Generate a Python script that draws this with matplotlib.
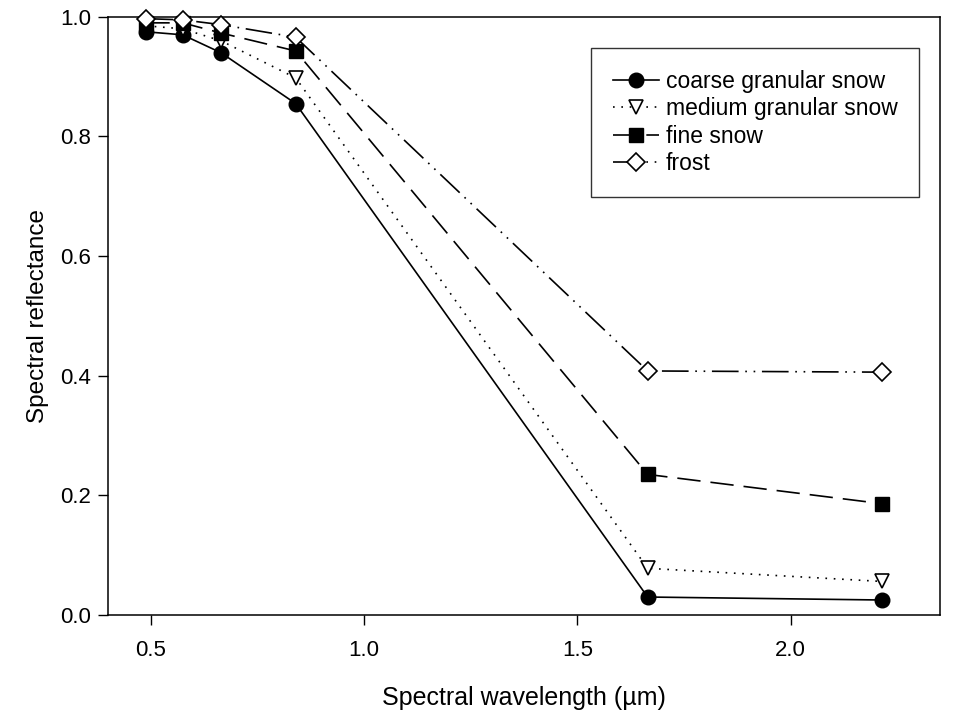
import numpy as np
import matplotlib
matplotlib.use('Agg')
import matplotlib.pyplot as plt

plt.rcParams['font.family'] = ['Liberation Sans', 'DejaVu Sans']

# wavelengths (um) and reflectance per surface type
wavelength = [0.49, 0.575, 0.665, 0.84, 1.665, 2.215]
coarse = [0.975, 0.97, 0.94, 0.855, 0.03, 0.025]
medium = [0.985, 0.98, 0.96, 0.898, 0.078, 0.056]
fine = [0.99, 0.99, 0.973, 0.943, 0.235, 0.186]
frost = [0.997, 0.995, 0.987, 0.966, 0.408, 0.406]
labels = ['coarse granular snow', 'medium granular snow', 'fine snow', 'frost']

fig = plt.figure(figsize=(9.64, 7.18), dpi=100)
ax = fig.add_axes([0.112, 0.1435, 0.863, 0.833])

lw = 1.2
ax.plot(wavelength, coarse, '-', color='black', lw=lw, marker='o', ms=10.5,
        mfc='black', mec='black', label=labels[0], clip_on=False, zorder=5)
ax.plot(wavelength, medium, color='black', lw=lw, ls=(0, (1, 4)), marker='v', ms=10.5,
        mfc='white', mec='black', mew=1.2, label=labels[1], clip_on=False, zorder=5)
ax.plot(wavelength, fine, color='black', lw=lw, ls=(0, (14, 6)), marker='s', ms=10,
        mfc='black', mec='black', label=labels[2], clip_on=False, zorder=5)
ax.plot(wavelength, frost, color='black', lw=lw, ls=(0, (16, 4, 1, 4, 1, 4)), marker='D', ms=9.5,
        mfc='white', mec='black', mew=1.2, label=labels[3], clip_on=False, zorder=6)

ax.set_xlim(0.4, 2.35)
ax.set_ylim(0.0, 1.0)
ax.set_xticks([0.5, 1.0, 1.5, 2.0])
ax.set_yticks([0.0, 0.2, 0.4, 0.6, 0.8, 1.0])
ax.xaxis.set_major_formatter(matplotlib.ticker.FormatStrFormatter('%.1f'))
ax.yaxis.set_major_formatter(matplotlib.ticker.FormatStrFormatter('%.1f'))
ax.tick_params(direction='out', length=7, width=1, labelsize=16)
ax.tick_params(axis='x', pad=11)
ax.tick_params(axis='y', pad=5)
for s in ax.spines.values():
    s.set_linewidth(1.1)

ax.set_xlabel('Spectral wavelength (\u00b5m)', fontsize=18, labelpad=18)
ax.set_ylabel('Spectral reflectance', fontsize=17.5, labelpad=8)

leg = ax.legend(loc='upper right', bbox_to_anchor=(0.975, 0.948), fontsize=16.5,
                frameon=True, fancybox=False, edgecolor='black', handlelength=2.0,
                borderpad=0.95, labelspacing=0.2, handletextpad=0.3, borderaxespad=0)
leg.get_frame().set_linewidth(1.0)

fig.savefig('out.png', dpi=100)
